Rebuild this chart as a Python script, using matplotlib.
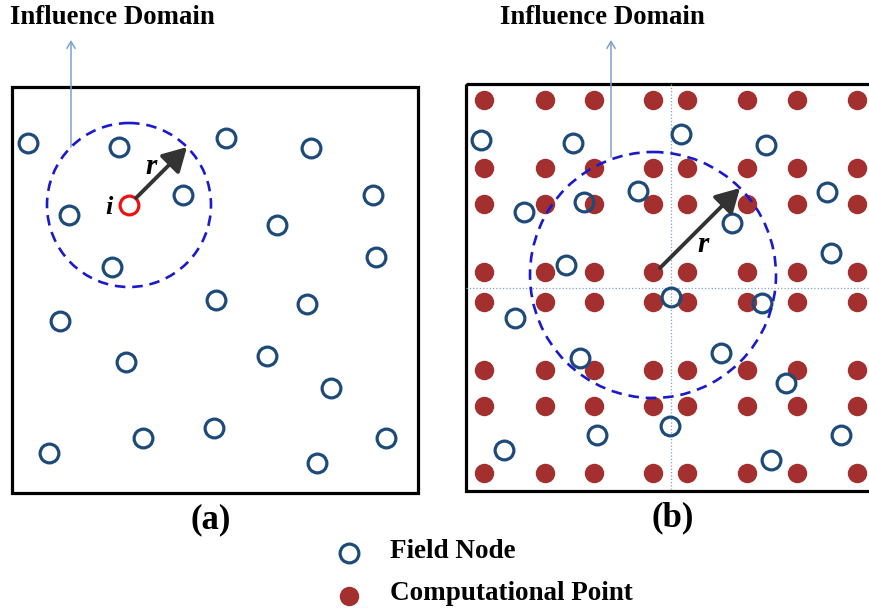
import numpy as np
import matplotlib
matplotlib.use("Agg")
import matplotlib.pyplot as plt
from matplotlib.patches import Rectangle, Circle, FancyArrowPatch

plt.rcParams['font.family'] = ['Liberation Serif', 'DejaVu Serif']

# field nodes, panel (a)
field_a_x = [28, 119, 226, 311, 183, 373, 69, 277, 376, 112, 216, 307,
             60, 126, 267, 331, 49, 143, 214, 317, 386]
field_a_y = [143, 147, 138, 148, 195, 195, 215, 225, 257, 267, 300, 304,
             321, 362, 356, 388, 453, 438, 428, 463, 438]
node_i = (129, 205)
radius_a = 82

# field nodes, panel (b)
field_b_x = [481, 573, 681, 766, 638, 584, 524, 827, 732, 831, 566, 671,
             762, 515, 580, 721, 786, 597, 670, 841, 504, 771]
field_b_y = [140, 143, 134, 145, 191, 202, 212, 192, 223, 253, 265, 297,
             303, 318, 358, 353, 383, 435, 426, 435, 450, 460]

# computational point grid, panel (b)
comp_cols = [484, 545, 594, 653, 687, 747, 797, 857]
comp_rows = [100, 168, 204, 272, 302, 370, 406, 473]
center_b = (653, 275)
radius_b = 123

node_color = '#1d4a78'
comp_color = '#a3302e'
dash_color = '#1a1acc'
note_color = '#7fa2c6'

fig = plt.figure(figsize=(8.69, 6.12), dpi=100)
ax = fig.add_axes([0, 0, 1, 1])
ax.set_xlim(0, 869)
ax.set_ylim(612, 0)
ax.axis('off')

# frames
ax.add_patch(Rectangle((12, 87), 406, 406, fill=False, lw=2.3, ec='black', zorder=1))
ax.add_patch(Rectangle((466, 84), 430, 407, fill=False, lw=2.3, ec='black', zorder=1))

# dotted cross through (b)
ax.plot([671, 671], [84, 491], ls=':', lw=0.9, color=note_color, zorder=1)
ax.plot([466, 869], [288, 288], ls=':', lw=0.9, color=note_color, zorder=1)

# computational points
gx, gy = np.meshgrid(comp_cols, comp_rows)
ax.plot(gx.ravel(), gy.ravel(), 'o', ms=14, color=comp_color, mew=0, zorder=2)

# field nodes
ax.plot(field_a_x, field_a_y, 'o', ms=13.5, mfc='none', mec=node_color, mew=2.3, zorder=3)
ax.plot(field_b_x, field_b_y, 'o', ms=13.5, mfc='none', mec=node_color, mew=2.3, zorder=3)
ax.plot(*node_i, 'o', ms=13.5, mfc='none', mec='#ee1111', mew=2.3, zorder=3)

# influence domains
for c, rad in [(node_i, radius_a), (center_b, radius_b)]:
    ax.add_patch(Circle(c, rad, fill=False, ec=dash_color, lw=1.9,
                        ls=(0, (4, 2.6)), zorder=4))

# radius arrows
for start, c, rad in [((136, 198), node_i, radius_a), ((660, 268), center_b, radius_b)]:
    tip = (c[0] + rad * np.cos(np.pi / 4), c[1] - rad * np.sin(np.pi / 4))
    ax.add_patch(FancyArrowPatch(start, tip, arrowstyle='-|>,head_length=0.8,head_width=0.45',
                                 mutation_scale=18, lw=2.8, color='#333333',
                                 shrinkA=0, shrinkB=0, zorder=5))

ax.text(151, 166, 'r', style='italic', weight='bold', fontsize=21, ha='center', va='center', zorder=6)
ax.text(703, 245, 'r', style='italic', weight='bold', fontsize=21, ha='center', va='center', zorder=6)
ax.text(109, 207, 'i', style='italic', weight='bold', fontsize=19, ha='center', va='center', zorder=6)

# "Influence Domain" callouts
for tx, lx, ly in [(10, 71, 147), (500, 611, 157)]:
    ax.text(tx, 18, 'Influence Domain', weight='bold', fontsize=19.3, ha='left', va='center')
    ax.annotate('', xy=(lx, 40), xytext=(lx, ly),
                arrowprops=dict(arrowstyle='->,head_length=0.5,head_width=0.3',
                                color=note_color, lw=1.1, shrinkA=0, shrinkB=0))

ax.text(211, 520, '(a)', weight='bold', fontsize=25, ha='center', va='center')
ax.text(673, 518, '(b)', weight='bold', fontsize=25, ha='center', va='center')

# legend
ax.plot(349, 553, 'o', ms=13.5, mfc='none', mec=node_color, mew=2.3)
ax.plot(349, 596, 'o', ms=14, color=comp_color, mew=0)
ax.text(390, 551, 'Field Node', weight='bold', fontsize=19.5, ha='left', va='center')
ax.text(390, 593, 'Computational Point', weight='bold', fontsize=19.5, ha='left', va='center')

fig.savefig('out.png', dpi=100)
